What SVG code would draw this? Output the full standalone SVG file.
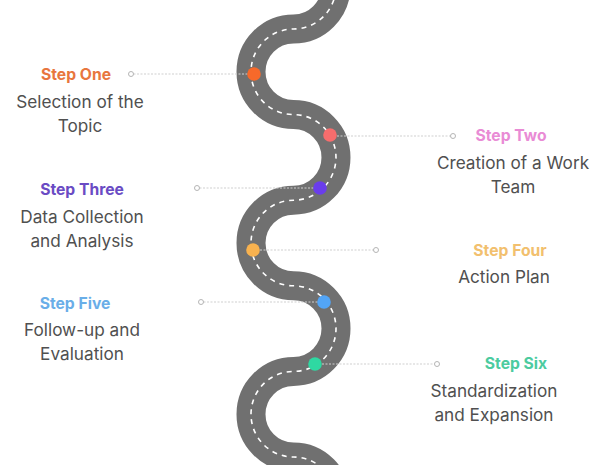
<svg xmlns="http://www.w3.org/2000/svg" width="600" height="465" viewBox="0 0 600 465">
<style>
.road{fill:none;stroke:#707070;stroke-width:29}
.lane{fill:none;stroke:#ffffff;stroke-width:1.6;stroke-dasharray:5 5}
.conn{stroke:#cfcfcf;stroke-width:1;stroke-dasharray:2 1.5}
.end{fill:#fff;stroke:#b5b5b5;stroke-width:1}
.step{font-family:Inter,"Noto Sans",sans-serif;font-weight:700;font-size:15.7px;text-anchor:middle}
.desc{font-family:Inter,"Noto Sans",sans-serif;font-size:17.2px;fill:#505050;text-anchor:middle}
</style>
<rect width="600" height="465" fill="#fff"/>
<g id="road">
<path class="road" d="M336 -40 L336 -13.8 A42.5 42.8 0 0 1 293.5 29 A42.5 42.8 0 0 0 293.5 114.6 A42.5 42.8 0 0 1 293.5 200.2 A42.5 42.8 0 0 0 293.5 285.8 A42.5 42.8 0 0 1 293.5 371.4 A42.5 42.8 0 0 0 293.5 457 A42.5 42.8 0 0 1 336 499.8 L336 520"/>
<path class="lane" d="M336 -40 L336 -13.8 A42.5 42.8 0 0 1 293.5 29 A42.5 42.8 0 0 0 293.5 114.6 A42.5 42.8 0 0 1 293.5 200.2 A42.5 42.8 0 0 0 293.5 285.8 A42.5 42.8 0 0 1 293.5 371.4 A42.5 42.8 0 0 0 293.5 457 A42.5 42.8 0 0 1 336 499.8 L336 520"/>
</g>
<g id="connectors">
<line class="conn" x1="133.5" y1="74" x2="254" y2="74"/>
<line class="conn" x1="330" y1="136" x2="450.5" y2="136"/>
<line class="conn" x1="199.5" y1="188" x2="320" y2="188"/>
<line class="conn" x1="253" y1="250" x2="373.5" y2="250"/>
<line class="conn" x1="203.5" y1="302" x2="324" y2="302"/>
<line class="conn" x1="315" y1="364" x2="434.5" y2="364"/>
<circle class="end" cx="131" cy="74" r="2.5"/>
<circle class="end" cx="453" cy="136" r="2.5"/>
<circle class="end" cx="197" cy="188" r="2.5"/>
<circle class="end" cx="376" cy="250" r="2.5"/>
<circle class="end" cx="201" cy="302" r="2.5"/>
<circle class="end" cx="437" cy="364" r="2.5"/>
</g>
<g id="step1">
<circle cx="254" cy="74" r="6.8" fill="#F7692A"/>
<text class="step" x="76" y="79.5" fill="#E8763E">Step One</text>
<text class="desc" x="80" y="107.5">Selection of the</text>
<text class="desc" x="80" y="131.5">Topic</text>
</g>
<g id="step2">
<circle cx="330" cy="135" r="6.8" fill="#F76D6D"/>
<text class="step" x="511" y="140.5" fill="#E98BD5">Step Two</text>
<text class="desc" x="513" y="168.5">Creation of a Work</text>
<text class="desc" x="513" y="192.5">Team</text>
</g>
<g id="step3">
<circle cx="320" cy="188" r="6.8" fill="#6A3DEB"/>
<text class="step" x="82" y="194.5" fill="#6A4BC4">Step Three</text>
<text class="desc" x="82" y="222.5">Data Collection</text>
<text class="desc" x="82" y="246.5">and Analysis</text>
</g>
<g id="step4">
<circle cx="253" cy="250" r="6.8" fill="#F8B24F"/>
<text class="step" x="510" y="255.5" fill="#F2C06E">Step Four</text>
<text class="desc" x="504" y="282.5">Action Plan</text>
</g>
<g id="step5">
<circle cx="324" cy="302" r="6.8" fill="#52A5F7"/>
<text class="step" x="75" y="308.5" fill="#6AAEE8">Step Five</text>
<text class="desc" x="82" y="335.5">Follow-up and</text>
<text class="desc" x="82" y="359.5">Evaluation</text>
</g>
<g id="step6">
<circle cx="315" cy="364" r="6.8" fill="#2FD8A2"/>
<text class="step" x="516" y="368.5" fill="#4CCB9F">Step Six</text>
<text class="desc" x="494" y="396.5">Standardization</text>
<text class="desc" x="494" y="420.5">and Expansion</text>
</g>
</svg>
